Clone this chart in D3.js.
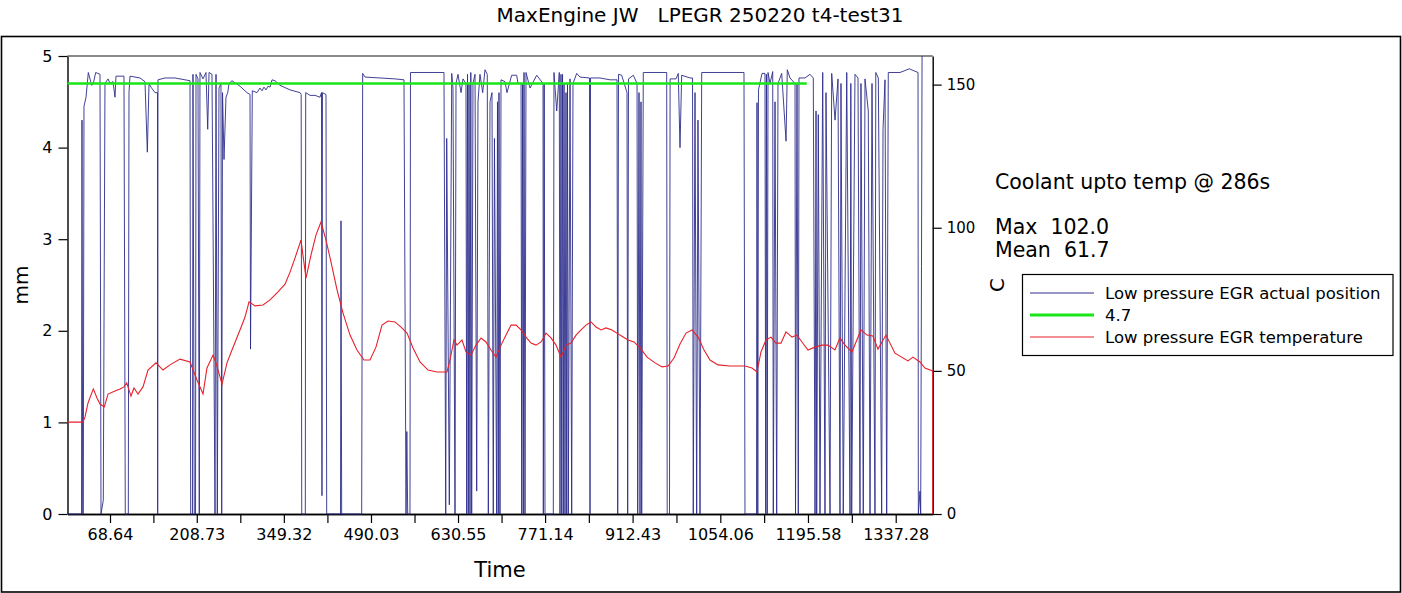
<!DOCTYPE html>
<html><head><meta charset="utf-8">
<script src="https://cdn.jsdelivr.net/npm/d3@7/dist/d3.min.js"></script>
<style>body{margin:0;background:#fff} text{font-family:"DejaVu Sans",sans-serif;fill:#000}</style>
</head><body><svg id="c" width="1402" height="593"></svg>
<script>
const title = "MaxEngine JW   LPEGR 250220 t4-test31";
const xLabel = "Time", yLeftLabel = "mm", yRightLabel = "C";
const xTickLabels = [68.64,208.73,349.32,490.03,630.55,771.14,912.43,1054.06,1195.58,1337.28];
const mmTicks = [0,1,2,3,4,5];
const cTicks = [0,50,100,150];
const timeDomain = [0, 1397];
const mmDomain = [0, 5];
const cDomain = [0, 160];
const thresholdValue = 4.7;
const thresholdTime = [0, 1193.6];
const legendLabels = ["Low pressure EGR actual position","4.7","Low pressure EGR temperature"];
const notes = ["Coolant upto temp @ 286s","Max  102.0","Mean  61.7"];

const posTime = [0,22.6,23.4,24.5,25.5,26.6,29.9,33.6,39.1,41.7,45.5,52.5,54.1,57.8,60.5,65.4,68.6,73.5,76.7,78.3,91.2,93.3,98.2,99.3,100.9,117.1,125.1,128.9,131.6,134.8,141.3,145.3,145.6,146.1,157.4,173.6,189.7,197.8,198.9,201.8,202.6,204.7,206.7,207.5,210.7,212.8,213.9,218.8,223.6,226.4,228.5,233.3,238.2,239.8,241.9,244.6,247.8,249.0,250.3,252.7,255.9,258.7,260.8,265.6,278.5,289.8,294.7,295.5,298.4,306.0,310.8,314.1,317.3,320.5,323.7,327.0,330.2,335.0,343.1,359.3,375.4,377.3,378.2,384.0,384.6,391.6,399.6,407.7,410.1,410.9,411.7,417.4,418.5,440.8,441.6,442.7,475.0,476.6,480.4,504.6,528.8,543.3,546.6,547.9,549.3,553.0,553.8,607.9,610.7,612.3,616.5,620.4,622.4,625.7,627.3,630.5,635.4,638.6,643.4,644.6,645.9,647.2,648.3,649.9,651.2,652.6,654.7,658.0,660.7,662.8,666.0,670.4,674.1,677.8,679.5,682.2,685.4,687.5,689.4,693.0,694.3,695.6,696.7,698.3,700.0,706.4,709.6,717.2,725.3,727.4,732.3,733.4,734.7,736.0,737.1,738.7,740.3,746.8,757.6,767.8,768.3,769.7,771.0,784.4,785.5,789.9,794.1,795.2,796.8,798.0,799.3,800.6,801.7,803.3,804.9,806.0,807.3,808.6,811.4,814.1,816.2,822.2,827.5,842.8,843.7,844.5,859.8,876.0,887.3,888.4,889.7,894.8,903.4,904.5,905.8,913.6,919.6,920.7,922.8,924.4,926.0,927.1,929.7,967.5,968.3,972.0,973.0,982.5,986.2,989.0,991.7,1005.1,1009.2,1010.4,1013.2,1015.9,1018.0,1021.3,1024.0,1092.3,1093.9,1112.5,1113.3,1114.6,1115.7,1121.4,1126.2,1127.4,1128.6,1129.8,1131.1,1134.3,1138.7,1139.6,1142.4,1145.1,1147.2,1153.2,1160.2,1162.2,1166.6,1174.7,1175.5,1177.9,1180.0,1181.1,1190.8,1198.9,1204.2,1207.0,1208.6,1209.7,1212.3,1215.0,1219.4,1223.1,1224.7,1231.2,1233.9,1239.3,1244.1,1247.3,1248.9,1252.6,1258.2,1263.5,1264.8,1266.2,1271.5,1276.4,1279.6,1281.2,1284.9,1287.7,1293.0,1295.8,1299.0,1303.8,1305.1,1309.2,1314.6,1316.8,1320.0,1322.7,1325.3,1344.2,1359.2,1373.3,1373.8,1376.5,1377.6,1378.9,1379.8];
const posValue = [0,0,4.3,0,0,4.45,4.55,4.82,4.68,4.7,4.82,4.8,0,0.15,4.7,4.75,4.7,4.72,4.55,4.78,4.78,0,0,4.6,4.78,4.76,4.72,3.95,4.7,4.66,4.6,4.6,0,4.74,4.76,4.76,4.74,4.73,0,0,4.8,0,0,4.8,4.75,0,4.82,4.75,4.82,4.2,4.82,4.8,0,4.8,0,4.65,4.7,0,4.6,3.87,4.55,4.6,4.7,4.73,4.67,4.6,4.58,1.8,4.62,4.6,4.65,4.62,4.66,4.63,4.67,4.66,4.74,4.73,4.68,4.63,4.6,4.58,0,0,4.6,4.57,4.57,4.55,4.6,0.2,4.6,4.58,0,0,3.2,0,0,4.81,4.77,4.76,4.75,4.74,0,0.9,0,0,4.82,4.82,0,4.1,0.1,4.81,4.65,0,4.7,4.8,4.6,4.75,4.7,0,4.8,0,4.7,0,4.82,0,4.7,4.8,0.25,4.5,4.8,4.6,4.85,4.8,0,4.5,4.6,0,4.1,0,4.5,0,4.6,0,4.74,4.72,4.6,4.79,4.79,4.7,4.7,0,4.7,0,4.82,0,4.82,4.65,4.79,4.7,0,4.7,0,0,4.82,4.4,4.82,0,4.8,0,4.8,0,4.7,0,4.6,0,4.7,0,4.75,0,4.7,4.81,4.77,4.76,0,4.76,4.76,4.74,4.74,0,4.8,4.79,4.6,0,4.75,4.79,4.7,0,4.6,0,4.5,0,4.82,4.82,0,0,4.75,4.75,4.81,4.0,4.79,4.76,4.76,0,4.6,0,4.3,0,4.82,4.82,0,0,4.49,0,4.63,4.81,4.81,0,4.8,0,4.82,4.7,4.83,0,4.5,0,4.7,4.81,4.07,4.85,4.76,4.7,0,4.7,0,4.76,4.76,4.8,4.76,0,4.4,0,4.36,0,4.82,0,4.6,0,4.81,4.3,4.75,0,4.7,0,4.82,0,4.7,0,4.8,4.76,0,4.7,0,4.75,4.4,0,4.7,0,4.82,4.76,0,4.2,4.74,0,4.82,4.82,4.86,4.82,0,0.25,0,2.7,5.0];

const tempTime = [0,25.0,28.3,33.1,41.7,47.6,52.5,59.4,65.4,76.7,84.8,91.2,95.6,102.5,107.4,113.8,121.9,130.0,142.9,154.2,165.5,181.6,197.8,209.1,218.8,225.2,235.0,239.8,249.5,257.5,265.6,278.5,286.6,293.1,302.8,315.7,327.0,339.9,351.2,359.3,367.3,377.0,385.1,393.2,401.3,409.3,417.4,425.5,435.2,444.9,456.2,467.4,478.7,488.4,498.1,507.8,517.5,528.8,538.5,548.2,557.9,569.2,582.1,596.6,612.7,617.6,624.0,628.9,637.0,643.4,651.5,659.6,667.7,675.7,683.8,691.9,700.0,708.1,716.1,724.2,732.3,740.4,748.4,756.5,764.6,772.7,780.7,788.8,796.9,805.0,813.0,821.1,829.2,837.2,845.3,853.4,861.5,869.5,879.2,892.1,905.1,914.8,924.5,935.8,948.7,960.0,969.6,979.3,989.0,998.7,1008.4,1018.1,1027.8,1037.4,1050.3,1069.7,1093.9,1105.2,1113.3,1119.7,1127.8,1135.9,1143.9,1152.0,1160.1,1169.8,1177.8,1185.9,1195.6,1206.9,1218.2,1227.9,1239.2,1247.2,1255.3,1266.6,1281.1,1290.8,1300.5,1308.6,1321.5,1336.1,1357.1,1365.1,1376.4,1384.5,1397,1397];
const tempValue = [32.1,32.1,33.9,38.8,43.7,40.5,38.4,37.4,41.9,43.0,43.7,44.4,45.8,41.2,44.0,41.9,44.4,50.3,52.8,50.3,52.1,54.1,53.1,46.8,41.9,51.0,55.5,52.8,45.4,52.8,57.3,64.3,68.8,74.1,72.7,73.0,74.8,77.6,80.3,84.5,89.4,95.7,82.4,90.5,97.5,102.0,95.7,88.0,78.3,70.2,62.5,57.3,53.8,53.8,58.3,66.0,67.4,67.1,65.3,63.2,58.0,53.1,50.3,49.6,49.6,53.8,60.8,59.0,60.8,56.6,55.5,59.0,61.5,60.1,57.3,54.8,59.0,62.5,66.0,66.0,64.3,61.8,59.7,59.0,60.1,63.2,61.5,59.0,54.8,59.0,59.7,62.5,64.3,66.0,67.1,65.3,64.3,65.0,64.3,62.5,60.8,60.1,58.0,54.8,52.8,51.4,51.7,54.5,59.4,63.2,64.3,61.8,57.3,53.8,52.1,51.7,51.7,51.0,49.6,56.6,60.8,61.8,59.7,59.7,63.6,61.8,62.5,60.1,57.3,58.3,59.0,59.0,57.3,61.5,59.0,56.6,64.3,62.5,62.2,57.6,62.5,56.2,53.5,54.8,53.1,51.0,50.0,0];

const colors = {pos:"#2e2e8c", thr:"#19e619", temp:"#e8202a"};

const svg = d3.select("#c");
const L = 67.5, R = 932.7, T = 56, B = 514;
const x = d3.scaleLinear().domain(timeDomain).range([L, R]);
const yL = d3.scaleLinear().domain(mmDomain).range([B, T]);
const yR = d3.scaleLinear().domain(cDomain).range([B, T]);

// outer frame
svg.append("rect").attr("x",1.5).attr("y",36.5).attr("width",1399).attr("height",555.5)
  .attr("fill","none").attr("stroke","#000").attr("stroke-width",1.6);

svg.append("text").attr("x",700).attr("y",22).attr("text-anchor","middle")
  .attr("font-size",20).style("white-space","pre").text(title);

// top frame line
svg.append("line").attr("x1",L).attr("x2",R).attr("y1",T).attr("y2",T)
  .attr("stroke","#8a8a8a").attr("stroke-width",2.2);

// axes
const fmtAxis = g => { g.select(".domain").attr("stroke","#000").attr("stroke-width",1.4);
  g.selectAll(".tick line").attr("stroke","#000").attr("stroke-width",1.2);
  g.selectAll("text").attr("font-family","DejaVu Sans").attr("fill","#000"); };

const minorTicks = d3.pairs(xTickLabels).map(([a,b]) => (a+b)/2);
svg.append("g").attr("transform",`translate(0,${B})`)
  .call(d3.axisBottom(x).tickValues(minorTicks).tickSize(9).tickSizeOuter(0).tickFormat(""))
  .call(fmtAxis);
svg.append("g").attr("transform",`translate(0,${B})`)
  .call(d3.axisBottom(x).tickValues(xTickLabels).tickSize(9).tickSizeOuter(0).tickPadding(6).tickFormat(d=>d.toFixed(2)))
  .call(fmtAxis).call(g=>g.selectAll("text").attr("font-size",16));
svg.append("g").attr("transform",`translate(${L},0)`)
  .call(d3.axisLeft(yL).tickValues(mmTicks).tickSize(9).tickSizeOuter(0).tickPadding(6).tickFormat(d3.format("d")))
  .call(fmtAxis).call(g=>g.selectAll("text").attr("font-size",16));
svg.append("g").attr("transform",`translate(${R},0)`)
  .call(d3.axisRight(yR).tickValues(cTicks).tickSize(9).tickSizeOuter(0).tickPadding(5).tickFormat(d3.format("d")))
  .call(fmtAxis).call(g=>g.selectAll("text").attr("font-size",15));

svg.append("text").attr("x",500).attr("y",577).attr("text-anchor","middle").attr("font-size",21).text(xLabel);
svg.append("text").attr("transform","translate(28,285) rotate(-90)").attr("text-anchor","middle").attr("font-size",20).text(yLeftLabel);
svg.append("text").attr("transform","translate(1004,285) rotate(-90)").attr("text-anchor","middle").attr("font-size",20).text(yRightLabel);

// series
const posData = posTime.map((t,i)=>[t,posValue[i]]);
const tempData = tempTime.map((t,i)=>[t,tempValue[i]]);
svg.append("path").datum(posData).attr("fill","none").attr("stroke",colors.pos).attr("stroke-width",1)
  .attr("stroke-opacity",0.9)
  .attr("d", d3.line().x(d=>x(d[0])).y(d=>yL(d[1])));
svg.append("path").datum(thresholdTime.map(t=>[t,thresholdValue])).attr("fill","none")
  .attr("stroke",colors.thr).attr("stroke-width",2.5)
  .attr("d", d3.line().x(d=>x(d[0])).y(d=>yL(d[1])));
svg.append("path").datum(tempData).attr("fill","none").attr("stroke",colors.temp).attr("stroke-width",1.1)
  .attr("d", d3.line().x(d=>x(d[0])).y(d=>yR(d[1])));

// notes
const noteY = [189, 234, 257];
notes.forEach((n,i)=>svg.append("text").attr("x",995).attr("y",noteY[i]).attr("font-size",20.5)
  .style("white-space","pre").text(n));

// legend
const lg = svg.append("g");
lg.append("rect").attr("x",1022.5).attr("y",274.5).attr("width",370.5).attr("height",81)
  .attr("fill","#fff").attr("stroke","#000").attr("stroke-width",1.2);
const legCol = [colors.pos, colors.thr, colors.temp], legW = [1,2.8,1];
legendLabels.forEach((lab,i)=>{
  const yy = 293 + i*22;
  lg.append("line").attr("x1",1030).attr("x2",1094).attr("y1",yy).attr("y2",yy)
    .attr("stroke",legCol[i]).attr("stroke-width",legW[i]);
  lg.append("text").attr("x",1105).attr("y",yy+5.5).attr("font-size",16.5).text(lab);
});
</script></body></html>
